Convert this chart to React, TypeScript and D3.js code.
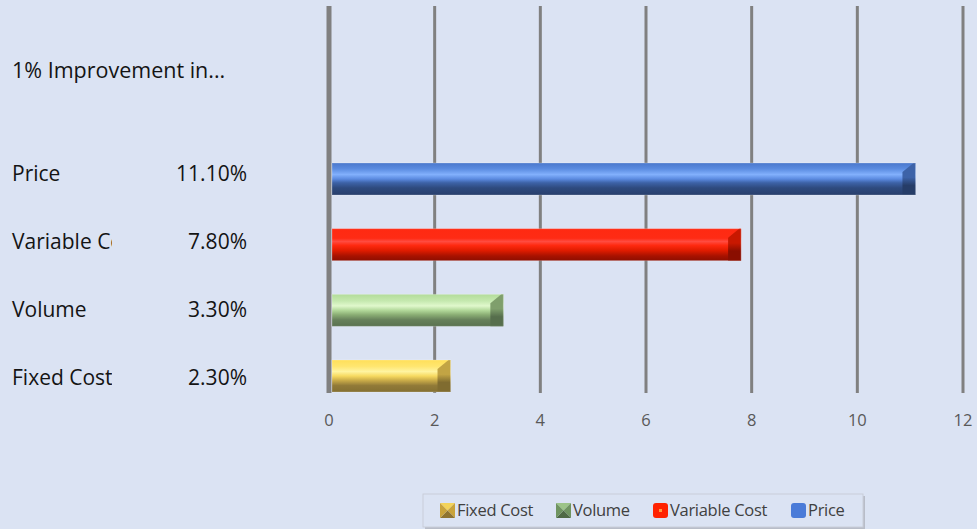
import React from "react";
import * as d3 from "d3";

// Profit impact of a 1% improvement in each driver
const categories = ["Price", "Variable Cost", "Volume", "Fixed Cost"];
const impactValues = [11.1, 7.8, 3.3, 2.3];
const impactLabels = ["11.10%", "7.80%", "3.30%", "2.30%"];
const xTicks = [0, 2, 4, 6, 8, 10, 12];
const legendOrder = ["Fixed Cost", "Volume", "Variable Cost", "Price"];

const W = 977;
const H = 529;
const BG = "#dbe3f3";
const FONT = "'Open Sans', 'Liberation Sans', sans-serif";

type Palette = { stops: [number, string][]; cap: string; capLight: string; swatch: string };

const palettes: Record<string, Palette> = {
  Price: {
    stops: [
      [0, "#4a78cc"],
      [0.18, "#5a8be0"],
      [0.36, "#82b0fc"],
      [0.5, "#5b8ae0"],
      [0.62, "#3d62a6"],
      [0.78, "#2e4a7e"],
      [1, "#283f6c"],
    ],
    cap: "#263d68",
    capLight: "#3d63a8",
    swatch: "#4a7bd8",
  },
  "Variable Cost": {
    stops: [
      [0, "#ff2a12"],
      [0.3, "#ff2b14"],
      [0.4, "#ff4b40"],
      [0.52, "#ff2a10"],
      [0.68, "#e01c00"],
      [0.85, "#a81200"],
      [1, "#8e0e00"],
    ],
    cap: "#8a0e00",
    capLight: "#c81800",
    swatch: "#ff2200",
  },
  Volume: {
    stops: [
      [0, "#b3dc9a"],
      [0.2, "#c4e8ae"],
      [0.36, "#e0f8cc"],
      [0.5, "#b2d89a"],
      [0.64, "#8aad74"],
      [0.8, "#66805a"],
      [1, "#5a7250"],
    ],
    cap: "#566e4c",
    capLight: "#7f9f6c",
    swatch: "#7fa56c",
  },
  "Fixed Cost": {
    stops: [
      [0, "#ffdf5a"],
      [0.2, "#ffe670"],
      [0.36, "#fff4a0"],
      [0.5, "#f7da60"],
      [0.64, "#c9ab48"],
      [0.8, "#917a38"],
      [1, "#847032"],
    ],
    cap: "#806c30",
    capLight: "#c2a444",
    swatch: "#d8b440",
  },
};

const idOf = (name: string) => "g-" + name.replace(/\s+/g, "-");

function Bar({ name, value, x, yc, h }: { name: string; value: number; x: d3.ScaleLinear<number, number>; yc: number; h: number }) {
  const x0 = x(0) + 3;
  const x1 = x(value);
  const y0 = yc - h / 2;
  const y1 = yc + h / 2;
  const b = 13;
  const capPts = [
    [x1 - b, y0 + 9],
    [x1 - 2, y0],
    [x1, y0],
    [x1, y1],
    [x1 - b, y1],
  ]
    .map((d) => d.join(","))
    .join(" ");
  return (
    <g>
      <rect x={x0} y={y0} width={x1 - x0} height={h} fill={`url(#${idOf(name)})`} />
      <polygon points={capPts} fill={`url(#${idOf(name)}-cap)`} />
      <rect x={x0} y={y0} width={x1 - x0} height={h} fill="none" stroke="rgba(255,255,255,0.22)" strokeWidth={1} />
    </g>
  );
}

function Swatch({ name, x, y }: { name: string; x: number; y: number }) {
  const s = 15;
  const p = palettes[name];
  if (name === "Fixed Cost" || name === "Volume") {
    const light = name === "Fixed Cost" ? "#f3d35a" : "#9cc488";
    const mid = name === "Fixed Cost" ? "#c9a33a" : "#6f9460";
    const dark = name === "Fixed Cost" ? "#8f7430" : "#4f6a46";
    const c = [x + s / 2, y + s / 2];
    return (
      <g>
        <polygon points={`${x},${y} ${x + s},${y} ${c[0]},${c[1]}`} fill={light} />
        <polygon points={`${x + s},${y} ${x + s},${y + s} ${c[0]},${c[1]}`} fill={mid} />
        <polygon points={`${x},${y + s} ${x + s},${y + s} ${c[0]},${c[1]}`} fill={dark} />
        <polygon points={`${x},${y} ${x},${y + s} ${c[0]},${c[1]}`} fill={mid} />
      </g>
    );
  }
  return (
    <g>
      <rect x={x} y={y} width={s} height={s} rx={3} fill={p.swatch} />
      {name === "Variable Cost" && <rect x={x + 6} y={y + 6} width={3} height={3} fill="#ff9a40" />}
    </g>
  );
}

export default function App() {
  const x = d3.scaleLinear().domain([0, 12]).range([329, 963]);
  const yBar = d3.scalePoint<string>().domain(categories).range([179, 376]);
  const yText = d3.scalePoint<string>().domain(categories).range([181, 385]);
  const barH = 32;
  const gridTop = 6;
  const gridBottom = 393;

  const legendX = [440, 556, 653, 791];

  return (
    <svg
      width={W}
      height={H}
      style={{ position: "absolute", left: 0, top: 0, display: "block" }}
      fontFamily={FONT}
    >
      <defs>
        {categories.map((c) => (
          <linearGradient key={c} id={idOf(c)} x1="0" y1="0" x2="0" y2="1">
            {palettes[c].stops.map(([o, col], i) => (
              <stop key={i} offset={o} stopColor={col} />
            ))}
          </linearGradient>
        ))}
        {categories.map((c) => (
          <linearGradient key={c + "-cap"} id={idOf(c) + "-cap"} x1="0" y1="0" x2="0" y2="1">
            <stop offset={0} stopColor={palettes[c].capLight} />
            <stop offset={0.45} stopColor={palettes[c].capLight} />
            <stop offset={0.7} stopColor={palettes[c].cap} />
            <stop offset={1} stopColor={palettes[c].cap} />
          </linearGradient>
        ))}
        <clipPath id="catClip">
          <rect x={0} y={0} width={112} height={H} />
        </clipPath>
      </defs>

      <rect x={0} y={0} width={W} height={H} fill={BG} />

      {/* vertical gridlines */}
      {xTicks.map((t) => (
        <line
          key={t}
          x1={x(t)}
          x2={x(t)}
          y1={gridTop}
          y2={gridBottom}
          stroke="#808080"
          strokeWidth={t === 0 ? 5 : 3}
        />
      ))}

      {/* tick labels */}
      {xTicks.map((t) => (
        <text key={t} x={x(t)} y={426} textAnchor="middle" fontSize={16.5} fill="#595959">
          {t}
        </text>
      ))}

      {/* bars */}
      {categories.map((c, i) => (
        <Bar key={c} name={c} value={impactValues[i]} x={x} yc={yBar(c)!} h={barH} />
      ))}

      {/* table of labels */}
      <text x={12} y={78} fontSize={21.5} fill="#141414">
        1% Improvement in...
      </text>
      <g clipPath="url(#catClip)">
        {categories.map((c) => (
          <text key={c} x={12} y={yText(c)} fontSize={21} fill="#141414">
            {c}
          </text>
        ))}
      </g>
      {categories.map((c, i) => (
        <text key={c} x={247} y={yText(c)} textAnchor="end" fontSize={21} fill="#141414">
          {impactLabels[i]}
        </text>
      ))}

      {/* legend */}
      <g>
        <rect x={425} y={496} width={440} height={33} fill="#b8bdc8" />
        <rect x={423} y={494} width={440} height={33} fill={BG} stroke="#c9ced9" strokeWidth={1} />
        {legendOrder.map((c, i) => (
          <g key={c}>
            <Swatch name={c} x={legendX[i]} y={503} />
            <text x={legendX[i] + 17} y={516} fontSize={16.5} fill="#404040" letterSpacing={-0.3}>
              {c}
            </text>
          </g>
        ))}
      </g>
    </svg>
  );
}
